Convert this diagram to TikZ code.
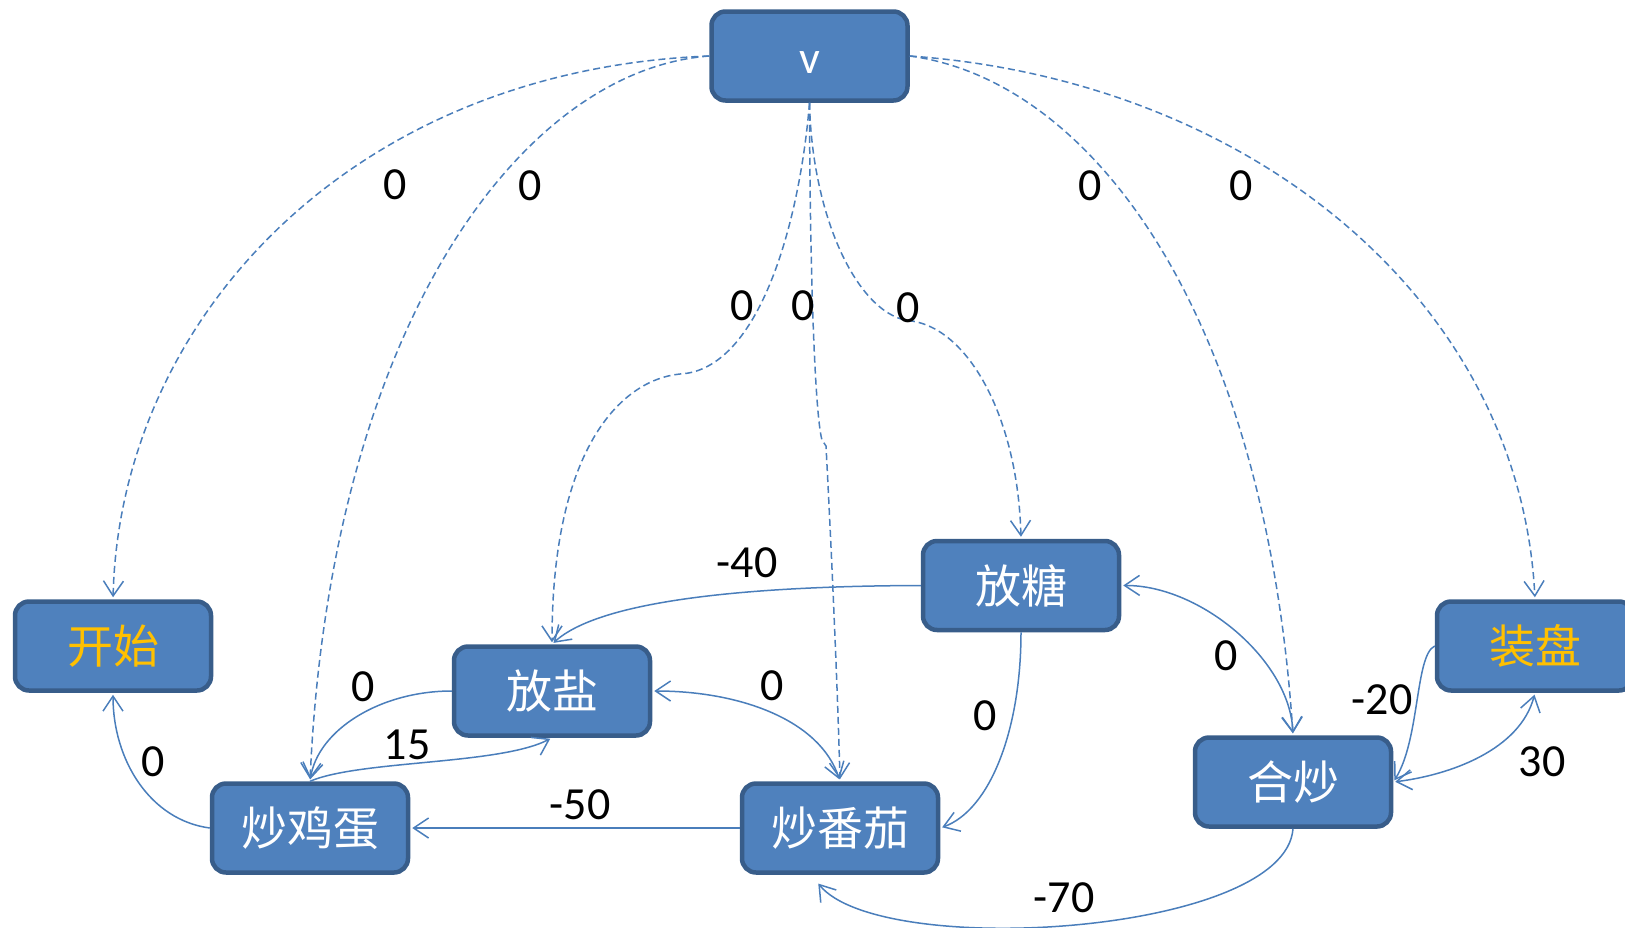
\documentclass[tikz,border=0pt]{standalone}
\usepackage{fontspec}
\setmainfont{Carlito}
\newfontfamily\cjk{Noto Sans CJK SC}
\usetikzlibrary{arrows.meta}
\definecolor{boxfill}{HTML}{4F81BD}
\definecolor{boxline}{HTML}{385D8A}
\definecolor{edgeblue}{HTML}{4A7EBB}
\definecolor{goldc}{HTML}{FFC000}
\begin{document}
\begin{tikzpicture}[x=1pt,y=-1pt,
  >={Straight Barb[length=15pt,width=20pt]},
  box/.style={draw=boxline, fill=boxfill, line width=4.5pt, rounded corners=14pt,
    minimum width=196pt, minimum height=89pt, inner sep=0pt, text=white,
    font=\cjk\fontsize{46}{50}\selectfont},
  goldtext/.style={text=goldc},
  lbl/.style={font=\fontsize{46}{50}\selectfont, inner sep=0pt, text=black},
  edge/.style={draw=edgeblue, line width=1.5pt, ->, shorten >=2pt},
  bi/.style={draw=edgeblue, line width=1.5pt, <->, shorten >=2pt, shorten <=2pt},
  dedge/.style={edge, dash pattern=on 7pt off 4pt}
]
\useasboundingbox (0,0) rectangle (1625,927);

% nodes
\node[box, font=\fontsize{46}{50}\selectfont, text height=41pt, text depth=7pt] (v) at (809.5,56) {v};
\node[box, goldtext] (s) at (113,646) {开始};
\node[box] (egg) at (310,828) {炒鸡蛋};
\node[box] (salt) at (552,691) {放盐};
\node[box] (tom) at (840,828) {炒番茄};
\node[box] (sugar) at (1021,585.5) {放糖};
\node[box] (mix) at (1293,782) {合炒};
\node[box, goldtext] (plate) at (1535,646) {装盘};

% helper points
\coordinate (c1) at (680,374);
\coordinate (c2) at (822,440);
\coordinate (c3) at (826,446);
\coordinate (c4) at (912,321);
\coordinate (c5) at (817,882);

% dashed edges from v
\draw[dedge] (v.west) .. controls (350,70) and (120,320) .. (s.north);
\draw[dedge] (v.west) .. controls (520,70) and (330,330) .. (egg.north);
\draw[dedge] (v.south) .. controls (800,220) and (760,370) .. (c1) .. controls (620,380) and (552,450) .. (salt.north);
\draw[dedge] (v.south) .. controls (810,300) and (816,420) .. (c2) -- (c3) .. controls (832,560) and (838,700) .. (tom.north);
\draw[dedge] (v.south) .. controls (812,220) and (860,318) .. (c4) .. controls (970,330) and (1018,420) .. (sugar.north);
\draw[dedge] (v.east) .. controls (1090,80) and (1265,310) .. (mix.north);
\draw[dedge] (v.east) .. controls (1250,80) and (1520,300) .. (plate.north);

% solid edges
\draw[edge] (sugar.west) .. controls (750,586) and (600,600) .. (salt.north);
\draw[edge] (salt.west) .. controls (380,691) and (318,730) .. (egg.north);
\draw[edge] (egg.north) .. controls (360,760) and (500,765) .. (salt.south);
\draw[edge] (egg.west) .. controls (150,820) and (113,760) .. (s.south);
\draw[edge] (tom.west) -- (egg.east);
\draw[bi] (salt.east) .. controls (740,691) and (820,720) .. (tom.north);
\draw[edge] (sugar.south) .. controls (1021,730) and (990,810) .. (tom.east);
\draw[bi] (sugar.east) .. controls (1200,585) and (1290,660) .. (mix.north);
\draw[edge] (mix.south) .. controls (1285,935) and (880,960) .. (c5);
\draw[edge] (plate.west) .. controls (1415,655) and (1420,740) .. (mix.east);
\draw[bi] (plate.south) .. controls (1520,750) and (1450,775) .. (mix.east);

% labels
\node[lbl] (l1) at (395,185) {0};
\node[lbl] (l2) at (530,186) {0};
\node[lbl] (l3) at (742,306) {0};
\node[lbl] (l4) at (803,306) {0};
\node[lbl] (l5) at (908,308) {0};
\node[lbl] (l6) at (1090,186) {0};
\node[lbl] (l7) at (1241,186) {0};
\node[lbl] (l8) at (747,563) {-40};
\node[lbl] (l9) at (363,687) {0};
\node[lbl] (l10) at (407,745) {15};
\node[lbl] (l11) at (153,762) {0};
\node[lbl] (l12) at (772,686) {0};
\node[lbl] (l13) at (580,805) {-50};
\node[lbl] (l14) at (985,716) {0};
\node[lbl] (l15) at (1226,656) {0};
\node[lbl] (l16) at (1382,700) {-20};
\node[lbl] (l17) at (1542,762) {30};
\node[lbl] (l18) at (1064,898) {-70};
\end{tikzpicture}
\end{document}
